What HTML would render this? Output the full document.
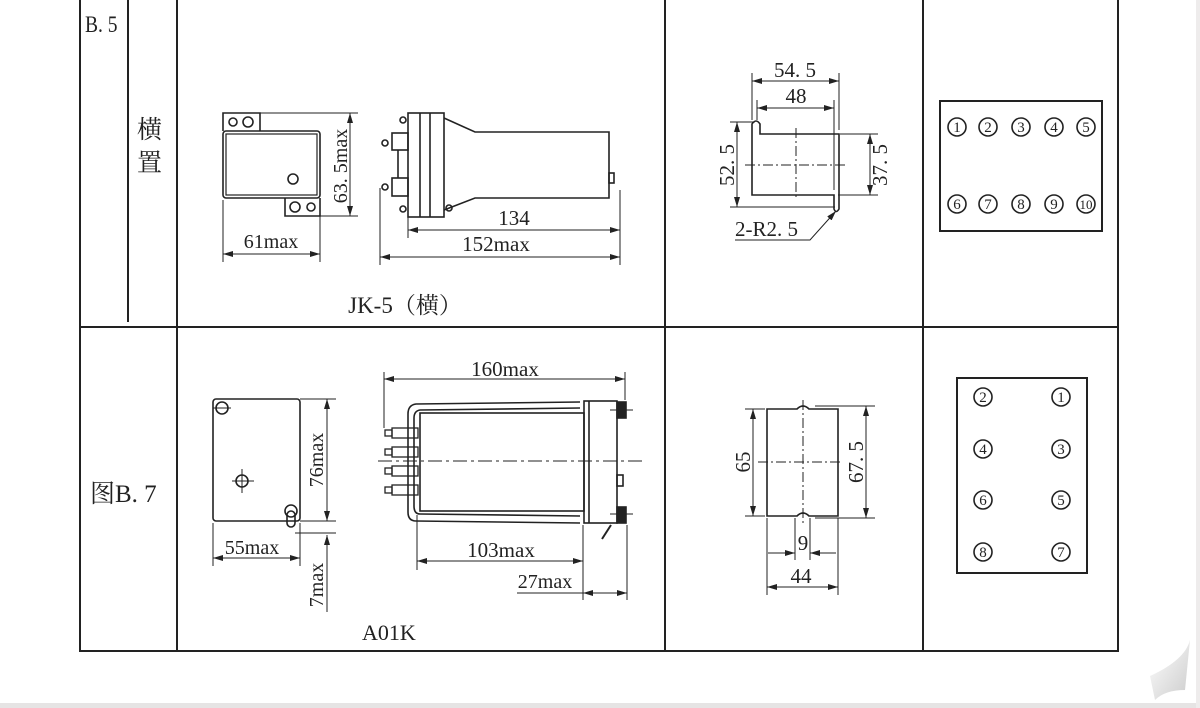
<!DOCTYPE html>
<html><head><meta charset="utf-8"><style>
html,body{margin:0;padding:0;background:#fff;width:1200px;height:708px;overflow:hidden}
svg{display:block}
text{font-family:"Liberation Serif","Noto Serif CJK SC",serif;fill:#222}
</style></head><body>
<svg width="1200" height="708" viewBox="0 0 1200 708" xmlns="http://www.w3.org/2000/svg">
<defs>
<marker id="a" viewBox="0 0 10 6" refX="10" refY="3" markerWidth="10" markerHeight="6" orient="auto-start-reverse" markerUnits="userSpaceOnUse"><path d="M0,0L10,3L0,6z" fill="#222"/></marker>
<linearGradient id="g" x1="0" y1="0" x2="1" y2="1"><stop offset="0" stop-color="#fff"/><stop offset="1" stop-color="#ccc"/></linearGradient>
</defs>
<rect x="0" y="703" width="1200" height="5" fill="#e6e4e4"/>
<rect x="1196" y="0" width="4" height="708" fill="#eeecec"/>
<path d="M1150,676 Q1185,660 1190,640 L1185,690 Q1165,690 1155,700 Z" fill="url(#g)"/>
<g stroke="#222" stroke-width="2" fill="none">
<rect x="80" y="-2" width="1038" height="653"/>
<line x1="80" y1="327" x2="1118" y2="327"/>
<line x1="128" y1="0" x2="128" y2="322"/>
<line x1="177" y1="0" x2="177" y2="651"/>
<line x1="665" y1="0" x2="665" y2="651"/>
<line x1="923" y1="0" x2="923" y2="651"/>
</g>
<text x="85" y="32" font-size="23" transform="translate(85,0) scale(0.85,1) translate(-85,0)">B. 5</text>
<text x="137" y="138" font-size="25">横</text>
<text x="137" y="171" font-size="25">置</text>
<text x="90" y="502" font-size="25">图B. 7</text>

<!-- JK-5 front -->
<g stroke="#222" stroke-width="1.6" fill="none">
<path d="M223,131 L223,113 L260,113 L260,131"/>
<path d="M285,198 L285,216 L320,216 L320,198"/>
<rect x="223" y="131" width="97" height="67" rx="3"/>
<rect x="226" y="134" width="91" height="61" stroke-width="1.2"/>
<circle cx="293" cy="179" r="5"/>
<circle cx="233" cy="122" r="4"/><circle cx="248" cy="122" r="5"/>
<circle cx="295" cy="207" r="5"/><circle cx="311" cy="207" r="4"/>
</g>
<g stroke="#222" stroke-width="1" fill="none">
<line x1="260" y1="113" x2="358" y2="113"/><line x1="320" y1="216" x2="358" y2="216"/>
<line x1="350" y1="113" x2="350" y2="216" marker-start="url(#a)" marker-end="url(#a)"/>
<line x1="223" y1="200" x2="223" y2="262"/><line x1="320" y1="200" x2="320" y2="262"/>
<line x1="223" y1="254" x2="320" y2="254" marker-start="url(#a)" marker-end="url(#a)"/>
</g>
<text transform="translate(347,166) rotate(-90)" font-size="20" text-anchor="middle">63. 5max</text>
<text x="271" y="248" font-size="20" text-anchor="middle">61max</text>

<!-- JK-5 side -->
<g stroke="#222" stroke-width="1.6" fill="none">
<rect x="408" y="113" width="36" height="104"/>
<line x1="420" y1="113" x2="420" y2="217"/><line x1="430" y1="113" x2="430" y2="217"/>
<path d="M444,118 L475,132 L609,132 L609,198 L475,198 L444,210"/>
<rect x="609" y="173" width="5" height="10"/>
<rect x="392" y="133" width="16" height="17"/><rect x="392" y="178" width="16" height="18"/>
<line x1="398" y1="150" x2="398" y2="178"/>
<circle cx="403" cy="120" r="3"/><circle cx="403" cy="209" r="3"/>
<circle cx="385" cy="143" r="3"/><circle cx="385" cy="187" r="3"/>
<circle cx="449" cy="208" r="3"/>
</g>
<g stroke="#222" stroke-width="1" fill="none">
<line x1="408" y1="217" x2="408" y2="238"/><line x1="620" y1="190" x2="620" y2="265"/>
<line x1="380" y1="188" x2="380" y2="265"/>
<line x1="408" y1="230" x2="620" y2="230" marker-start="url(#a)" marker-end="url(#a)"/>
<line x1="380" y1="257" x2="620" y2="257" marker-start="url(#a)" marker-end="url(#a)"/>
</g>
<text x="514" y="225" font-size="21" text-anchor="middle">134</text>
<text x="496" y="251" font-size="21" text-anchor="middle">152max</text>
<text x="405" y="313" font-size="23" text-anchor="middle">JK-5（横）</text>

<!-- mount 1 -->
<g stroke="#222" stroke-width="1.6" fill="none">
<path d="M752,195 L752,124 Q756,118 760,124 L760,134 L839,134 L839,209 Q836,214 834,209 L834,195 Z"/>
</g>
<g stroke="#222" stroke-width="1" fill="none">
<line x1="752" y1="73" x2="752" y2="120"/><line x1="839" y1="73" x2="839" y2="130"/>
<line x1="757" y1="100" x2="757" y2="120"/><line x1="834" y1="100" x2="834" y2="190"/>
<line x1="752" y1="81" x2="839" y2="81" marker-start="url(#a)" marker-end="url(#a)"/>
<line x1="757" y1="108" x2="834" y2="108" marker-start="url(#a)" marker-end="url(#a)"/>
<line x1="730" y1="122" x2="755" y2="122"/><line x1="730" y1="207" x2="835" y2="207"/>
<line x1="737" y1="122" x2="737" y2="207" marker-start="url(#a)" marker-end="url(#a)"/>
<line x1="840" y1="134" x2="878" y2="134"/><line x1="838" y1="195" x2="878" y2="195"/>
<line x1="870" y1="134" x2="870" y2="195" marker-start="url(#a)" marker-end="url(#a)"/>
<line x1="745" y1="165" x2="848" y2="165" stroke-dasharray="10,3,2,3"/>
<line x1="796" y1="128" x2="796" y2="200" stroke-dasharray="10,3,2,3"/>
<polyline points="735,240 810,240 836,211" marker-end="url(#a)"/>
</g>
<text x="795" y="77" font-size="21" text-anchor="middle">54. 5</text>
<text x="796" y="103" font-size="21" text-anchor="middle">48</text>
<text transform="translate(734,165) rotate(-90)" font-size="21" text-anchor="middle">52. 5</text>
<text transform="translate(887,165) rotate(-90)" font-size="21" text-anchor="middle">37. 5</text>
<text x="735" y="236" font-size="21">2-R2. 5</text>

<!-- pin box 1 -->
<rect x="940" y="101" width="162" height="130" stroke="#222" stroke-width="2" fill="none"/>
<g stroke="#222" stroke-width="1.6" fill="none">
<circle cx="957" cy="127" r="9"/><circle cx="988" cy="127" r="9"/><circle cx="1021" cy="127" r="9"/><circle cx="1054" cy="127" r="9"/><circle cx="1086" cy="127" r="9"/>
<circle cx="957" cy="204" r="9"/><circle cx="988" cy="204" r="9"/><circle cx="1021" cy="204" r="9"/><circle cx="1054" cy="204" r="9"/><circle cx="1086" cy="204" r="9"/>
</g>
<g font-size="15" text-anchor="middle">
<text x="957" y="132">1</text><text x="988" y="132">2</text><text x="1021" y="132">3</text><text x="1054" y="132">4</text><text x="1086" y="132">5</text>
<text x="957" y="209">6</text><text x="988" y="209">7</text><text x="1021" y="209">8</text><text x="1054" y="209">9</text><text x="1086" y="209" font-size="13">10</text>
</g>

<!-- A01K front -->
<g stroke="#222" stroke-width="1.6" fill="none">
<rect x="213" y="399" width="87" height="122" rx="3"/>
<circle cx="222" cy="408" r="6"/>
<circle cx="242" cy="481" r="6"/>
<circle cx="291" cy="511" r="6"/>
<rect x="287" y="511" width="8" height="16" rx="4"/>
</g>
<g stroke="#222" stroke-width="1" fill="none">
<line x1="213" y1="408" x2="231" y2="408"/><line x1="232" y1="481" x2="254" y2="481"/><line x1="242" y1="469" x2="242" y2="493"/>
<line x1="300" y1="399" x2="336" y2="399"/><line x1="300" y1="521" x2="336" y2="521"/><line x1="295" y1="533" x2="336" y2="533"/>
<line x1="327" y1="399" x2="327" y2="521" marker-start="url(#a)" marker-end="url(#a)"/>
<line x1="327" y1="535" x2="327" y2="612" marker-start="url(#a)"/>
<line x1="213" y1="523" x2="213" y2="566"/><line x1="300" y1="523" x2="300" y2="566"/>
<line x1="213" y1="558" x2="300" y2="558" marker-start="url(#a)" marker-end="url(#a)"/>
</g>
<text transform="translate(323,460) rotate(-90)" font-size="20" text-anchor="middle">76max</text>
<text transform="translate(323,585) rotate(-90)" font-size="20" text-anchor="middle">7max</text>
<text x="252" y="554" font-size="20" text-anchor="middle">55max</text>

<!-- A01K side -->
<g stroke="#222" stroke-width="1.6" fill="none">
<path d="M580,402 L416,404 Q408,405 408,414 L408,512 Q408,521 416,521 L580,523"/>
<path d="M580,408 L420,410 Q414,411 414,418 L414,506 Q414,514 420,514 L580,516"/>
<rect x="420" y="413" width="164" height="98"/>
<rect x="584" y="401" width="33" height="122"/>
<line x1="589" y1="401" x2="589" y2="523"/>
<rect x="617" y="402" width="9" height="16" fill="#222"/>
<rect x="617" y="507" width="9" height="16" fill="#222"/>
<rect x="617" y="475" width="6" height="11"/>
<g stroke-width="1.3">
<rect x="392" y="428" width="26" height="10"/><rect x="392" y="447" width="26" height="10"/>
<rect x="392" y="466" width="26" height="10"/><rect x="392" y="485" width="26" height="10"/>
<rect x="385" y="430" width="7" height="6"/><rect x="385" y="449" width="7" height="6"/>
<rect x="385" y="468" width="7" height="6"/><rect x="385" y="487" width="7" height="6"/>
</g>
</g>
<g stroke="#222" stroke-width="1" fill="none">
<line x1="378" y1="461" x2="645" y2="461" stroke-dasharray="14,4,3,4"/>
<line x1="384" y1="372" x2="384" y2="428"/><line x1="625" y1="372" x2="625" y2="400"/>
<line x1="384" y1="379" x2="625" y2="379" marker-start="url(#a)" marker-end="url(#a)"/>
<line x1="417" y1="515" x2="417" y2="570"/><line x1="583" y1="525" x2="583" y2="600"/>
<line x1="627" y1="525" x2="627" y2="600"/>
<line x1="417" y1="561" x2="583" y2="561" marker-start="url(#a)" marker-end="url(#a)"/>
<line x1="517" y1="593" x2="583" y2="593"/>
<line x1="583" y1="593" x2="627" y2="593" marker-start="url(#a)" marker-end="url(#a)"/>
<line x1="610" y1="410" x2="633" y2="410"/><line x1="610" y1="514" x2="633" y2="514"/>
<line x1="602" y1="539" x2="611" y2="525" stroke-width="2"/>
</g>
<text x="505" y="376" font-size="21" text-anchor="middle">160max</text>
<text x="501" y="557" font-size="21" text-anchor="middle">103max</text>
<text x="545" y="588" font-size="20" text-anchor="middle">27max</text>
<text x="362" y="640" font-size="22">A01K</text>

<!-- mount 2 -->
<g stroke="#222" stroke-width="1.6" fill="none">
<path d="M767,409 L797,409 Q803,403 809,409 L838,409 L838,516 L809,516 Q803,510 797,516 L767,516 Z"/>
</g>
<g stroke="#222" stroke-width="1" fill="none">
<line x1="803" y1="400" x2="803" y2="523" stroke-dasharray="10,3,2,3"/>
<line x1="758" y1="462" x2="842" y2="462" stroke-dasharray="10,3,2,3"/>
<line x1="745" y1="409" x2="765" y2="409"/><line x1="745" y1="516" x2="765" y2="516"/>
<line x1="753" y1="409" x2="753" y2="516" marker-start="url(#a)" marker-end="url(#a)"/>
<line x1="815" y1="406" x2="875" y2="406"/><line x1="815" y1="518" x2="875" y2="518"/>
<line x1="866" y1="406" x2="866" y2="518" marker-start="url(#a)" marker-end="url(#a)"/>
<line x1="767" y1="518" x2="767" y2="595"/><line x1="838" y1="518" x2="838" y2="595"/>
<line x1="795" y1="518" x2="795" y2="560"/><line x1="810" y1="518" x2="810" y2="560"/>
<line x1="768" y1="553" x2="795" y2="553" marker-end="url(#a)"/>
<line x1="836" y1="553" x2="810" y2="553" marker-end="url(#a)"/>
<line x1="767" y1="587" x2="838" y2="587" marker-start="url(#a)" marker-end="url(#a)"/>
</g>
<text transform="translate(750,462) rotate(-90)" font-size="21" text-anchor="middle">65</text>
<text transform="translate(863,462) rotate(-90)" font-size="21" text-anchor="middle">67. 5</text>
<text x="803" y="550" font-size="21" text-anchor="middle">9</text>
<text x="801" y="583" font-size="21" text-anchor="middle">44</text>

<!-- pin box 2 -->
<rect x="957" y="378" width="130" height="195" stroke="#222" stroke-width="2" fill="none"/>
<g stroke="#222" stroke-width="1.6" fill="none">
<circle cx="983" cy="397" r="9"/><circle cx="1061" cy="397" r="9"/>
<circle cx="983" cy="449" r="9"/><circle cx="1061" cy="449" r="9"/>
<circle cx="983" cy="500" r="9"/><circle cx="1061" cy="500" r="9"/>
<circle cx="983" cy="552" r="9"/><circle cx="1061" cy="552" r="9"/>
</g>
<g font-size="15" text-anchor="middle">
<text x="983" y="402">2</text><text x="1061" y="402">1</text>
<text x="983" y="454">4</text><text x="1061" y="454">3</text>
<text x="983" y="505">6</text><text x="1061" y="505">5</text>
<text x="983" y="557">8</text><text x="1061" y="557">7</text>
</g>
</svg>
</body></html>
